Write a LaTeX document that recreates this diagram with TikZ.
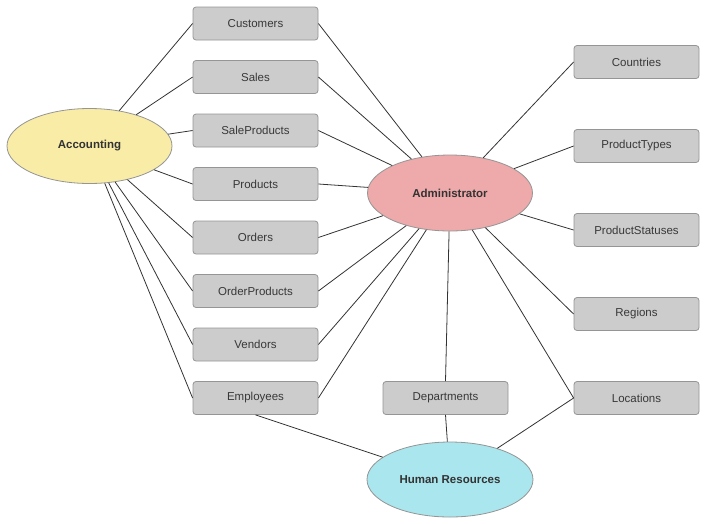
\documentclass[tikz,border=0pt]{standalone}
\usepackage{fontspec}
\setmainfont{Liberation Sans}
\usetikzlibrary{shapes.geometric}
\definecolor{tablegray}{HTML}{CCCCCC}
\definecolor{edgegray}{HTML}{959595}
\definecolor{acctyellow}{HTML}{F8ECA6}
\definecolor{adminred}{HTML}{EEA9AA}
\definecolor{hrblue}{HTML}{AAE6EE}
\tikzset{
  tablebox/.style={draw=edgegray, fill=tablegray, rounded corners=3pt, line width=0.8pt,
    minimum width=125pt, minimum height=33pt, inner sep=0pt, text=black!78,
    font=\fontsize{11.5}{13}\selectfont},
  rolebox/.style={ellipse, draw=edgegray, line width=0.8pt, inner sep=0pt, text=black!80,
    font=\fontsize{11.5}{13}\selectfont\bfseries},
  link/.style={draw=black!80, line width=0.8pt}
}

\begin{document}
\begin{tikzpicture}[x=1pt, y=-1pt]
			%%%%% START %%%%%
			\useasboundingbox (0,0) rectangle (706,523);
			
			% roles
			\node[rolebox, fill=acctyellow, minimum width=165pt, minimum height=75pt] (acc) at (89.5,146) {Accounting};
			\node[rolebox, fill=adminred, minimum width=165pt, minimum height=76pt] (admin) at (450,193) {Administrator};
			\node[rolebox, fill=hrblue, minimum width=166pt, minimum height=75pt] (hr) at (450,479.5) {Human Resources};
			
			% left column of tables
			\node[tablebox] (customers) at (255.5,23.5) {Customers};
			\node[tablebox] (sales) at (255.5,77) {Sales};
			\node[tablebox] (saleproducts) at (255.5,130.5) {SaleProducts};
			\node[tablebox] (products) at (255.5,184) {Products};
			\node[tablebox] (orders) at (255.5,237.5) {Orders};
			\node[tablebox] (orderproducts) at (255.5,291) {OrderProducts};
			\node[tablebox] (vendors) at (255.5,344.5) {Vendors};
			\node[tablebox] (employees) at (255.5,398) {Employees};
			
			% right column of tables
			\node[tablebox] (countries) at (636.5,62) {Countries};
			\node[tablebox] (producttypes) at (636.5,146) {ProductTypes};
			\node[tablebox] (productstatuses) at (636.5,230) {ProductStatuses};
			\node[tablebox] (regions) at (636.5,314) {Regions};
			\node[tablebox] (locations) at (636.5,398) {Locations};
			
			\node[tablebox] (departments) at (445.5,398) {Departments};
			
			% links
			\foreach \t in {customers,sales,saleproducts,products,orders,orderproducts,vendors,employees} {
				\draw[link] (acc) -- (\t.west);
				\draw[link] (admin) -- (\t.east);
			}
			\foreach \t in {countries,producttypes,productstatuses,regions,locations}
				\draw[link] (admin) -- (\t.west);
			\draw[link] (admin) -- (departments.north);
			
			\draw[link] (hr) -- (employees.south);
			\draw[link] (hr) -- (departments.south);
			\draw[link] (hr) -- (locations.west);
			
			%%%%% END %%%%%
		\end{tikzpicture}
\end{document}
